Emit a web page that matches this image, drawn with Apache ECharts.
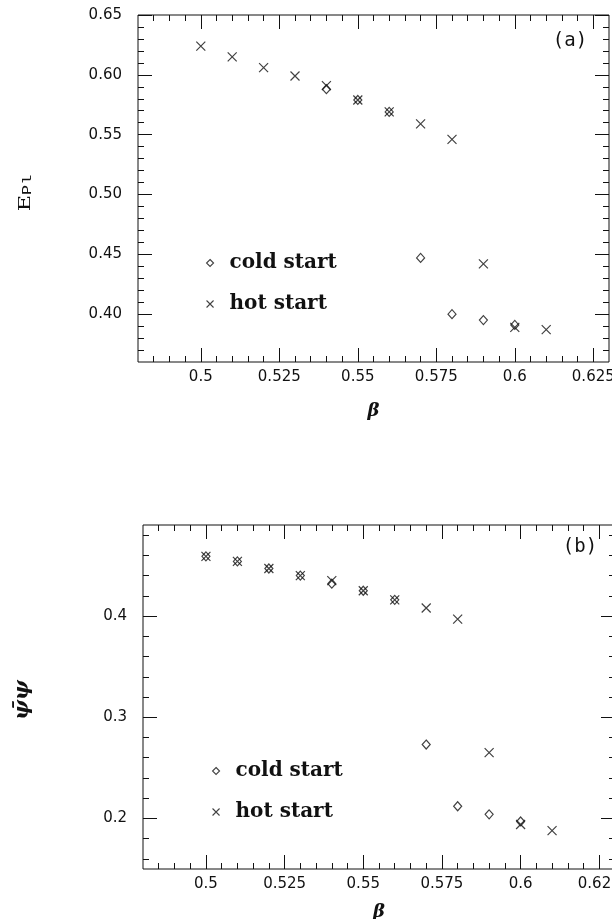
<!DOCTYPE html>
<html>
<head>
<meta charset="utf-8">
<script src="https://cdn.jsdelivr.net/npm/echarts@6/dist/echarts.min.js"></script>
<style>
html,body{margin:0;padding:0;background:#fff;}
#chart{width:612px;height:919px;}
</style>
</head>
<body>
<div id="chart"></div>
<script>
// ---------- data ----------
// panel (a): plaquette energy E_Pl vs beta
var coldBetaA = [0.54, 0.55, 0.56, 0.57, 0.58, 0.59, 0.60];
var coldEA    = [0.588, 0.579, 0.569, 0.447, 0.400, 0.395, 0.391];
var hotBetaA  = [0.50, 0.51, 0.52, 0.53, 0.54, 0.55, 0.56, 0.57, 0.58, 0.59, 0.60, 0.61];
var hotEA     = [0.624, 0.615, 0.606, 0.599, 0.591, 0.579, 0.569, 0.559, 0.546, 0.442, 0.389, 0.387];

// panel (b): chiral condensate psibar-psi vs beta
var coldBetaB = [0.50, 0.51, 0.52, 0.53, 0.54, 0.55, 0.56, 0.57, 0.58, 0.59, 0.60];
var coldPB    = [0.459, 0.454, 0.447, 0.440, 0.432, 0.425, 0.416, 0.273, 0.212, 0.204, 0.197];
var hotBetaB  = [0.50, 0.51, 0.52, 0.53, 0.54, 0.55, 0.56, 0.57, 0.58, 0.59, 0.60, 0.61];
var hotPB     = [0.459, 0.454, 0.447, 0.440, 0.435, 0.425, 0.416, 0.408, 0.397, 0.265, 0.194, 0.188];

// axes / ticks
var xMajor      = [0.5, 0.525, 0.55, 0.575, 0.6, 0.625];
var xMajorLabel = ['0.5', '0.525', '0.55', '0.575', '0.6', '0.625'];
var xMinor      = [0.485, 0.49, 0.495, 0.505, 0.51, 0.515, 0.52, 0.53, 0.535, 0.54, 0.545, 0.555, 0.56, 0.565, 0.57, 0.58, 0.585, 0.59, 0.595, 0.605, 0.61, 0.615, 0.62];
var yMajorA      = [0.40, 0.45, 0.50, 0.55, 0.60, 0.65];
var yMajorLabelA = ['0.40', '0.45', '0.50', '0.55', '0.60', '0.65'];
var yMinorA      = [0.37, 0.38, 0.39, 0.41, 0.42, 0.43, 0.44, 0.46, 0.47, 0.48, 0.49, 0.51, 0.52, 0.53, 0.54, 0.56, 0.57, 0.58, 0.59, 0.61, 0.62, 0.63, 0.64];
var yMajorB      = [0.2, 0.3, 0.4];
var yMajorLabelB = ['0.2', '0.3', '0.4'];
var yMinorB      = [0.16, 0.18, 0.22, 0.24, 0.26, 0.28, 0.32, 0.34, 0.36, 0.38, 0.42, 0.44, 0.46, 0.48];
var seriesNames  = ['cold start', 'hot start'];

// ---------- helpers ----------
function zip(a, b) { return a.map(function (v, i) { return [v, b[i]]; }); }
var INK = '#111';
var tickFont = {fontFamily: 'DejaVu Sans', fontSize: 15, color: INK};

function xAxes(grid, name, nameGap) {
  var base = {type: 'value', gridIndex: grid, min: 0.48, max: 0.63, splitLine: {show: false}, axisLine: {show: false}};
  function lab(v) {
    for (var i = 0; i < xMajor.length; i++) { if (Math.abs(xMajor[i] - v) < 1e-9) return xMajorLabel[i]; }
    return '';
  }
  return [
    Object.assign({}, base, {position: 'bottom', name: name, nameLocation: 'middle', nameGap: nameGap,
      nameTextStyle: {fontFamily: 'DejaVu Serif', fontStyle: 'italic', fontWeight: 'bold', fontSize: 18, color: INK},
      axisTick: {inside: true, length: 14, customValues: xMajor, lineStyle: {color: INK}},
      axisLabel: Object.assign({margin: 8, customValues: xMajor, formatter: lab, hideOverlap: false}, tickFont)}),
    Object.assign({}, base, {position: 'bottom', axisTick: {inside: true, length: 6, customValues: xMinor, lineStyle: {color: INK}}, axisLabel: {show: false}}),
    Object.assign({}, base, {position: 'top', axisTick: {inside: true, length: 14, customValues: xMajor, lineStyle: {color: INK}}, axisLabel: {show: false}}),
    Object.assign({}, base, {position: 'top', axisTick: {inside: true, length: 6, customValues: xMinor, lineStyle: {color: INK}}, axisLabel: {show: false}})
  ];
}
function yAxes(grid, min, max, major, majorLabel, minor) {
  var base = {type: 'value', gridIndex: grid, min: min, max: max, splitLine: {show: false}, axisLine: {show: false}};
  function lab(v) {
    for (var i = 0; i < major.length; i++) { if (Math.abs(major[i] - v) < 1e-9) return majorLabel[i]; }
    return '';
  }
  return [
    Object.assign({}, base, {position: 'left',
      axisTick: {inside: true, length: 14, customValues: major, lineStyle: {color: INK}},
      axisLabel: Object.assign({margin: 16, customValues: major, formatter: lab}, tickFont)}),
    Object.assign({}, base, {position: 'left', axisTick: {inside: true, length: 6, customValues: minor, lineStyle: {color: INK}}, axisLabel: {show: false}}),
    Object.assign({}, base, {position: 'right', axisTick: {inside: true, length: 14, customValues: major, lineStyle: {color: INK}}, axisLabel: {show: false}}),
    Object.assign({}, base, {position: 'right', axisTick: {inside: true, length: 6, customValues: minor, lineStyle: {color: INK}}, axisLabel: {show: false}})
  ];
}
var crossPath = 'path://M0,0L10,10M10,0L0,10';
function coldSeries(name, xi, yi, data) {
  return {type: 'scatter', name: name, xAxisIndex: xi, yAxisIndex: yi, data: data,
    symbol: 'diamond', symbolSize: [8, 9],
    itemStyle: {color: 'rgba(0,0,0,0)', borderColor: INK, borderWidth: 1.2}, z: 3};
}
function hotSeries(name, xi, yi, data) {
  return {type: 'scatter', name: name, xAxisIndex: xi, yAxisIndex: yi, data: data,
    symbol: crossPath, symbolSize: 9,
    itemStyle: {color: 'rgba(0,0,0,0)', borderColor: INK, borderWidth: 1.2}, z: 4};
}
function legendAt(left, top) {
  return {orient: 'vertical', left: left, top: top, padding: 0, data: seriesNames,
    itemWidth: 7, itemHeight: 7, itemGap: 21, selectedMode: false,
    itemStyle: {borderWidth: 1.1},
    textStyle: {fontFamily: 'DejaVu Serif', fontWeight: 'bold', fontSize: 20, color: INK, lineHeight: 20, padding: [0, 0, 0, 11]}};
}

var xs = xAxes(0, 'β', 40).concat(xAxes(1, 'β', 34));
var ys = yAxes(0, 0.36, 0.65, yMajorA, yMajorLabelA, yMinorA).concat(yAxes(1, 0.15, 0.49, yMajorB, yMajorLabelB, yMinorB));

var option = {
  backgroundColor: '#fff',
  animation: false,
  grid: [
    {left: 138, top: 15, width: 471, height: 347, show: true, borderColor: INK, borderWidth: 1, backgroundColor: 'transparent', containLabel: false, outerBoundsMode: 'none'},
    {left: 143, top: 525, width: 472, height: 344, show: true, borderColor: INK, borderWidth: 1, backgroundColor: 'transparent', containLabel: false, outerBoundsMode: 'none'}
  ],
  xAxis: xs,
  yAxis: ys,
  legend: [legendAt(206, 253), legendAt(212, 761)],
  series: [
    coldSeries(seriesNames[0], 0, 0, zip(coldBetaA, coldEA)),
    hotSeries(seriesNames[1], 0, 0, zip(hotBetaA, hotEA)),
    coldSeries(seriesNames[0], 4, 4, zip(coldBetaB, coldPB)),
    hotSeries(seriesNames[1], 4, 4, zip(hotBetaB, hotPB))
  ],
  graphic: [
    {type: 'text', x: 570, y: 41, style: {text: '(a)', font: '19px "DejaVu Sans Mono"', fill: INK, align: 'center', verticalAlign: 'middle'}},
    {type: 'text', x: 580, y: 547, style: {text: '(b)', font: '19px "DejaVu Sans Mono"', fill: INK, align: 'center', verticalAlign: 'middle'}},
    {type: 'text', x: 25, y: 193, rotation: Math.PI / 2, scaleX: 1.4,
      style: {text: '{e|E}{s|Pl}', align: 'center', verticalAlign: 'middle',
        rich: {e: {fontFamily: 'DejaVu Serif', fontSize: 16, fill: INK, lineHeight: 18, verticalAlign: 'bottom'},
               s: {fontFamily: 'Liberation Mono', fontSize: 12, fill: INK, lineHeight: 12, verticalAlign: 'bottom', padding: [6, 0, 0, 0]}}}},
    {type: 'text', x: 23, y: 700, rotation: Math.PI / 2,
      style: {text: 'ψ\u0304ψ', align: 'center', verticalAlign: 'middle',
        font: 'italic bold 21px "DejaVu Serif"', fill: INK}}
  ]
};
var chart = echarts.init(document.getElementById('chart'), null, {renderer: 'canvas'});
chart.setOption(option);
</script>
</body>
</html>
